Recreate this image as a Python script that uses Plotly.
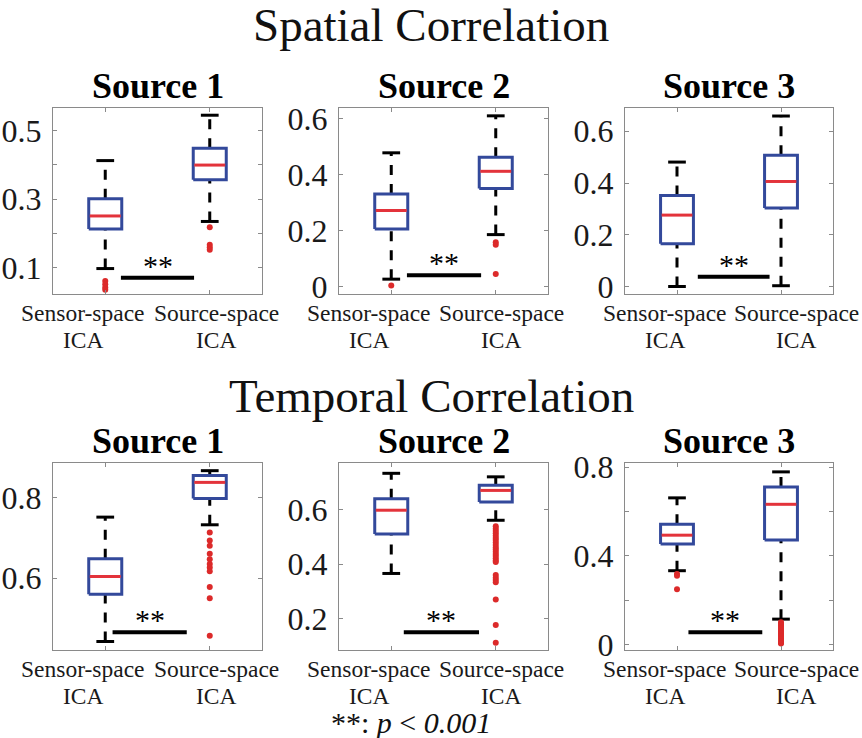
import plotly.graph_objects as go

# ---------------- data ----------------
row_titles = ["Spatial Correlation", "Temporal Correlation"]
panel_titles = ["Source 1", "Source 2", "Source 3", "Source 1", "Source 2", "Source 3"]
group_line1 = ["Sensor-space", "Source-space"]
group_line2 = ["ICA", "ICA"]
positions = [1, 2]

# per panel: [Sensor-space ICA, Source-space ICA]
q1 = [[0.213, 0.356], [0.206, 0.351], [0.165, 0.303],
      [0.560, 0.797], [0.511, 0.629], [0.453, 0.471]]
median = [[0.251, 0.399], [0.272, 0.412], [0.276, 0.406],
          [0.604, 0.837], [0.599, 0.672], [0.493, 0.632]]
q3 = [[0.301, 0.448], [0.331, 0.462], [0.352, 0.507],
      [0.648, 0.854], [0.641, 0.691], [0.542, 0.710]]
lower_whisker = [[0.098, 0.235], [0.027, 0.186], [0.000, 0.003],
                 [0.443, 0.732], [0.366, 0.562], [0.333, 0.115]]
upper_whisker = [[0.412, 0.544], [0.478, 0.610], [0.481, 0.659],
                 [0.751, 0.866], [0.735, 0.722], [0.661, 0.778]]
outliers = [
    [[0.062, 0.052, 0.043, 0.036], [0.218, 0.167, 0.160, 0.153]],
    [[0.004], [0.159, 0.150, 0.045]],
    [[], []],
    [[], [0.713, 0.693, 0.680, 0.660, 0.647, 0.635, 0.626, 0.617, 0.578, 0.550, 0.457]],
    [[], [0.540, 0.531, 0.522, 0.514, 0.505, 0.497, 0.489, 0.480, 0.471, 0.462, 0.454,
          0.446, 0.438, 0.430, 0.422, 0.414, 0.408, 0.360, 0.350, 0.342, 0.334,
          0.270, 0.176, 0.111]],
    [[0.318, 0.310, 0.249], [0.101, 0.094, 0.087, 0.080, 0.072, 0.064, 0.057, 0.050,
                             0.043, 0.036, 0.029, 0.022, 0.015, 0.009, 0.005]],
]
sig_label = "**"
sig_y = [0.071, 0.041, 0.038, 0.466, 0.149, 0.056]
sig_x = [[1.15, 1.85], [1.15, 1.86], [1.20, 1.89],
         [1.07, 1.78], [1.12, 1.84], [1.11, 1.82]]
y_ranges = [[0.024, 0.565], [-0.026, 0.638], [-0.029, 0.690],
            [0.422, 0.885], [0.084, 0.773], [-0.024, 0.818]]
y_tickvals = [[0.1, 0.2, 0.3, 0.4, 0.5], [0, 0.2, 0.4, 0.6], [0, 0.2, 0.4, 0.6],
              [0.6, 0.8], [0.2, 0.4, 0.6], [0, 0.2, 0.4, 0.6, 0.8]]
y_ticktext = [["0.1", "", "0.3", "", "0.5"], ["0", "0.2", "0.4", "0.6"],
              ["0", "0.2", "0.4", "0.6"], ["0.6", "0.8"], ["0.2", "0.4", "0.6"],
              ["0", "", "0.4", "", "0.8"]]
caption = "**: <i>p</i> &lt; <i>0.001</i>"

# ---------------- style / layout ----------------
W, H = 862, 738
FONT = "Liberation Serif, Times New Roman, serif"
BOX_BLUE = "#33499b"
MED_RED = "#e3333b"
OUT_RED = "#dc2a2a"
AXIS_GRAY = "#8a8a8a"
BOX_HALF = 0.158
CAP_HALF = 0.085
col_px = [(53, 262), (339, 548), (625, 833)]
row_px = [(108, 294), (463, 650)]
label_shift = [[-22, 7], [-22, 6], [-12, 15]]


def px_x(p):
    return p / W


def px_y(p):
    return 1 - p / H


fig = go.Figure()
layout = dict(
    template="none",
    width=W, height=H, margin=dict(l=0, r=0, t=0, b=0, pad=0, autoexpand=False),
    paper_bgcolor="white", plot_bgcolor="white", showlegend=False,
    font=dict(family=FONT, color="#1a1a1a"),
)
annotations = []

for i in range(6):
    r, c = divmod(i, 3)
    n = i + 1
    xa = "x" if n == 1 else f"x{n}"
    ya = "y" if n == 1 else f"y{n}"
    x0, x1 = col_px[c]
    y0, y1 = row_px[r]

    layout[f"xaxis{n}" if n > 1 else "xaxis"] = dict(
        domain=[px_x(x0), px_x(x1)], range=[0.5, 2.5], anchor=ya,
        tickvals=positions, ticktext=["", ""], ticks="inside", ticklen=4,
        tickcolor=AXIS_GRAY, showline=True, linecolor=AXIS_GRAY, linewidth=1,
        mirror="ticks", showgrid=False, zeroline=False, fixedrange=True,
        automargin=False,
    )
    layout[f"yaxis{n}" if n > 1 else "yaxis"] = dict(
        domain=[px_y(y1), px_y(y0)], range=y_ranges[i], anchor=xa,
        tickvals=y_tickvals[i], ticktext=y_ticktext[i], ticks="inside", ticklen=4,
        tickcolor=AXIS_GRAY, showline=True, linecolor=AXIS_GRAY, linewidth=1,
        mirror="ticks", showgrid=False, zeroline=False, fixedrange=True,
        tickfont=dict(family=FONT, size=32, color="#1a1a1a"),
        ticklabelstandoff=4, automargin=False,
    )

    for g in range(2):
        pos = positions[g]
        # whiskers (dashed)
        for ya_, yb_ in [(q3[i][g], upper_whisker[i][g]), (lower_whisker[i][g], q1[i][g])]:
            fig.add_trace(go.Scatter(
                x=[pos, pos], y=[ya_, yb_], mode="lines", xaxis=xa, yaxis=ya,
                line=dict(color="black", width=3, dash="10px,9px"), hoverinfo="skip"))
        # caps
        for yv in [upper_whisker[i][g], lower_whisker[i][g]]:
            fig.add_trace(go.Scatter(
                x=[pos - CAP_HALF, pos + CAP_HALF], y=[yv, yv], mode="lines",
                xaxis=xa, yaxis=ya, line=dict(color="black", width=3), hoverinfo="skip"))
        # box
        fig.add_trace(go.Scatter(
            x=[pos - BOX_HALF, pos + BOX_HALF, pos + BOX_HALF, pos - BOX_HALF, pos - BOX_HALF],
            y=[q1[i][g], q1[i][g], q3[i][g], q3[i][g], q1[i][g]],
            mode="lines", xaxis=xa, yaxis=ya, fill="toself", fillcolor="white",
            line=dict(color=BOX_BLUE, width=3), hoverinfo="skip"))
        # median
        fig.add_trace(go.Scatter(
            x=[pos - BOX_HALF + 0.01, pos + BOX_HALF - 0.01], y=[median[i][g]] * 2,
            mode="lines", xaxis=xa, yaxis=ya, line=dict(color=MED_RED, width=3),
            hoverinfo="skip"))
        # outliers
        if outliers[i][g]:
            fig.add_trace(go.Scatter(
                x=[pos] * len(outliers[i][g]), y=outliers[i][g], mode="markers",
                xaxis=xa, yaxis=ya, marker=dict(color=OUT_RED, size=6),
                hoverinfo="skip"))
        # category labels (two lines)
        annotations.append(dict(
            text=group_line1[g], xref=xa, x=pos, xshift=label_shift[c][g],
            xanchor="center", yref="paper", y=px_y(y1 + 19), yanchor="middle",
            showarrow=False, font=dict(family=FONT, size=23.5, color="#1a1a1a")))
        annotations.append(dict(
            text=group_line2[g], xref=xa, x=pos, xshift=label_shift[c][g],
            xanchor="center", yref="paper", y=px_y(y1 + 46), yanchor="middle",
            showarrow=False, font=dict(family=FONT, size=23.5, color="#1a1a1a")))

    # significance bar
    fig.add_trace(go.Scatter(
        x=sig_x[i], y=[sig_y[i]] * 2, mode="lines", xaxis=xa, yaxis=ya,
        line=dict(color="black", width=4), hoverinfo="skip"))
    annotations.append(dict(
        text=sig_label, xref=xa, x=sum(sig_x[i]) / 2, xanchor="center",
        yref=ya, y=sig_y[i], yanchor="bottom", yshift=-6, showarrow=False,
        font=dict(family=FONT, size=30, color="black")))

    # panel title
    annotations.append(dict(
        text=f"<b>{panel_titles[i]}</b>", xref="paper", x=px_x((x0 + x1) / 2),
        xanchor="center", yref="paper", y=px_y(y0 - 22), yanchor="middle",
        showarrow=False, font=dict(family=FONT, size=36, color="black")))

# row titles
for r, t in enumerate(row_titles):
    annotations.append(dict(
        text=t, xref="paper", x=px_x(431), xanchor="center", yref="paper",
        y=px_y([25, 396][r]), yanchor="middle", showarrow=False,
        font=dict(family=FONT, size=47, color="#111111")))

annotations.append(dict(
    text=caption, xref="paper", x=px_x(411), xanchor="center", yref="paper",
    y=px_y(722), yanchor="middle", showarrow=False,
    font=dict(family=FONT, size=30, color="#111111")))

layout["annotations"] = annotations
fig.update_layout(**layout)
fig.write_html("out.html")
